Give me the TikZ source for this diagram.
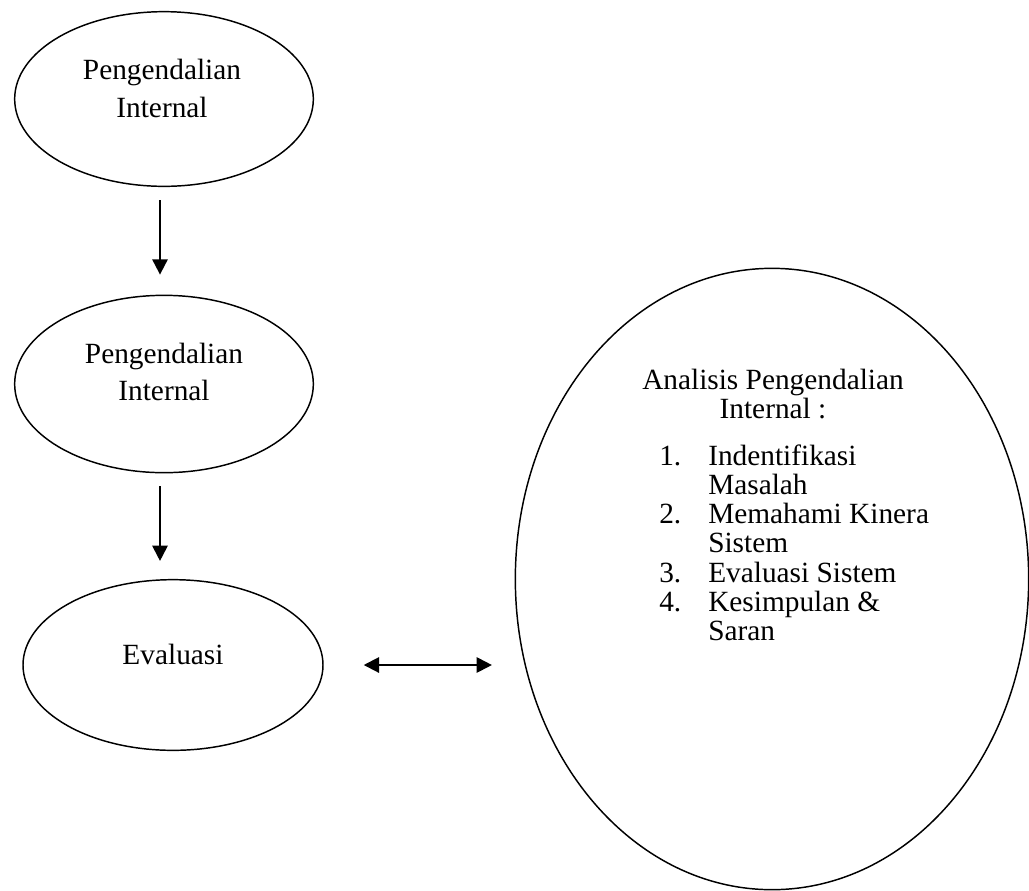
\documentclass[tikz,border=0pt]{standalone}
\usepackage{fontspec}
\setmainfont{Liberation Serif}
\usetikzlibrary{shapes.geometric,arrows.meta}
\begin{document}
\begin{tikzpicture}[x=0.75pt,y=-0.75pt,
  oval/.style={draw, ellipse, line width=1.1pt, inner sep=0pt},
  txt/.style={font=\fontsize{22}{26}\selectfont, inner sep=0pt},
  arr/.style={-{Triangle[length=11.5pt,width=11.5pt]}, line width=1.5pt}]
\useasboundingbox (0,0) rectangle (1029,890);
% ovals
\node[oval, minimum width=224pt, minimum height=131pt] (pi1) at (164,99) {};
\node[oval, minimum width=224pt, minimum height=133pt] (pi2) at (164,384) {};
\node[oval, minimum width=225pt, minimum height=128pt] (ev) at (173,665) {};
\node[oval, minimum width=385pt, minimum height=466pt] (an) at (772,579) {};
% texts
\node[txt, anchor=base] (pi1a) at (162,79) {Pengendalian};
\node[txt, anchor=base] (pi1b) at (162,117) {Internal};
\node[txt, anchor=base] (pi2a) at (164,363) {Pengendalian};
\node[txt, anchor=base] (pi2b) at (164,400) {Internal};
\node[txt, anchor=base] (evt) at (173,664) {Evaluasi};
\node[txt, anchor=base] (ana) at (773,389) {Analisis Pengendalian};
\node[txt, anchor=base] (anb) at (773,418) {Internal :};
\foreach \i/\y in {1/465, 2/523, 3/582, 4/611}
  \node[txt, anchor=base west] (num\i) at (659,\y) {\i.};
\foreach \i/\y/\t in {1/465/Indentifikasi, 2/494/Masalah, 3/523/Memahami Kinera,
    4/552/Sistem, 5/582/Evaluasi Sistem, 6/611/Kesimpulan \&, 7/640/Saran}
  \node[txt, anchor=base west] (item\i) at (708,\y) {\t};
% arrows
\draw[arr, shorten <=9.75pt, shorten >=15pt] ([xshift=-3pt]pi1.south) -- ([xshift=-3pt]pi2.north);
\draw[arr, shorten <=9.75pt, shorten >=13.5pt] ([xshift=-3pt]pi2.south) -- ([xshift=-3pt]pi2.south |- ev.north);
\draw[{Triangle[length=11.5pt,width=11.5pt]}-{Triangle[length=11.5pt,width=11.5pt]}, line width=1.5pt,
  shorten <=30pt, shorten >=17pt] (ev.east) -- (ev.east -| an.west);
\end{tikzpicture}
\end{document}
